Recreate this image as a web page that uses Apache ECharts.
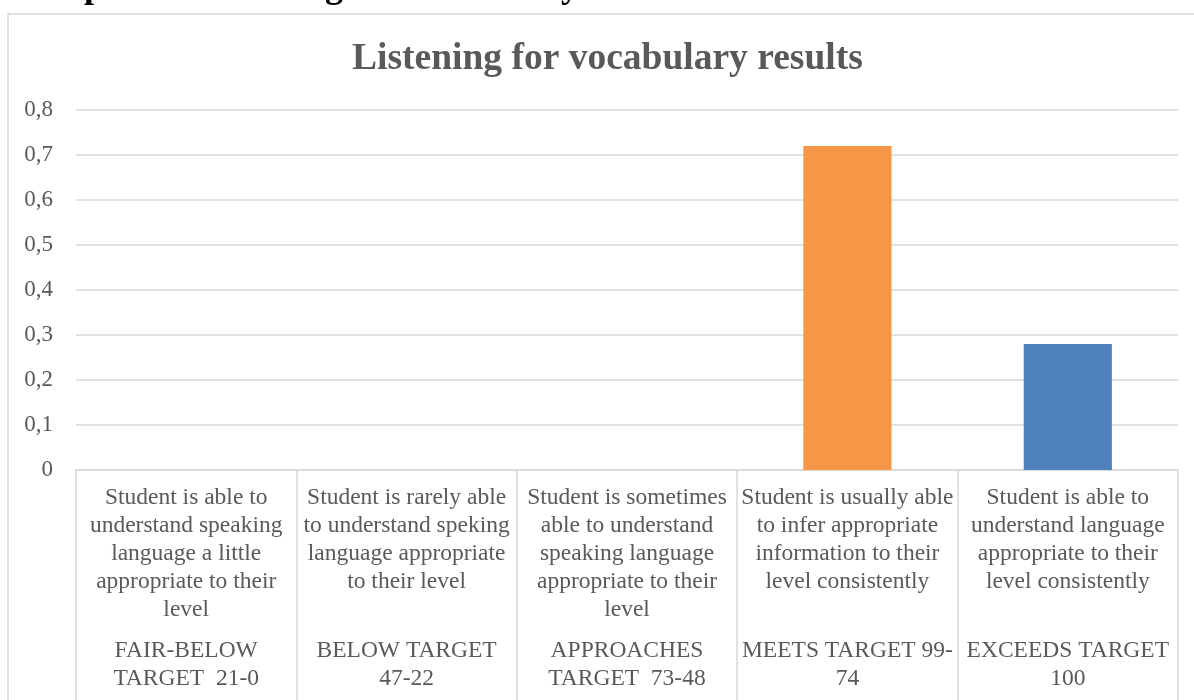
<!DOCTYPE html>
<html>
<head>
<meta charset="utf-8">
<title>Listening for vocabulary results</title>
<script src="https://cdn.jsdelivr.net/npm/echarts@6/dist/echarts.min.js"></script>
<style>
  html, body { margin: 0; padding: 0; background: #fff; }
  #chart { width: 1194px; height: 700px; }
</style>
</head>
<body>
<div id="chart"></div>
<script>
// descriptions (first label row) and target bands (second label row)
const descriptions = [
  'Student is able to\nunderstand speaking\nlanguage a little\nappropriate to their\nlevel',
  'Student is rarely able\nto understand speking\nlanguage appropriate\nto their level',
  'Student is sometimes\nable to understand\nspeaking language\nappropriate to their\nlevel',
  'Student is usually able\nto infer appropriate\ninformation to their\nlevel consistently',
  'Student is able to\nunderstand language\nappropriate to their\nlevel consistently'
];
const targets = [
  'FAIR-BELOW\nTARGET  21-0',
  'BELOW TARGET\n47-22',
  'APPROACHES\nTARGET  73-48',
  'MEETS TARGET 99-\n74',
  'EXCEEDS TARGET\n100'
];
const results = [0, 0, 0, 0.72, 0.28];
const barColors = ['#4F81BD', '#4F81BD', '#4F81BD', '#F79646', '#4F81BD'];

const serif = '"Liberation Serif", "Times New Roman", serif';
const textGray = '#595959';
const lineGray = '#d9d9d9';

const chart = echarts.init(document.getElementById('chart'));
chart.setOption({
  animation: false,
  title: {
    text: 'Listening for vocabulary results',
    left: 347,
    top: 35,
    textStyle: { fontFamily: serif, fontSize: 37.5, fontWeight: 'bold', color: textGray }
  },
  graphic: [
    {
      type: 'rect',
      shape: { x: 8, y: 14, width: 1400, height: 900 },
      style: { fill: 'none', stroke: lineGray, lineWidth: 1.5 },
      silent: true
    },
    {
      type: 'text',
      left: 22,
      top: -30,
      style: {
        text: 'Graph 4.1: Listening for vocabulary',
        font: 'bold 36px "Liberation Serif", serif',
        fill: '#000'
      },
      silent: true
    }
  ],
  grid: { left: 76, right: 16, top: 110, bottom: 230, containLabel: false },
  xAxis: [
    {
      type: 'category',
      data: descriptions,
      axisLine: { lineStyle: { color: lineGray, width: 1.5 } },
      axisTick: { show: true, interval: 0, length: 232, lineStyle: { color: lineGray, width: 1.5 } },
      axisLabel: {
        interval: 0,
        margin: 14,
        fontFamily: serif,
        fontSize: 23.5,
        lineHeight: 28,
        color: textGray,
        align: 'center'
      }
    },
    {
      type: 'category',
      position: 'bottom',
      data: targets,
      axisLine: { show: false },
      axisTick: { show: false },
      axisLabel: {
        interval: 0,
        margin: 167,
        fontFamily: serif,
        fontSize: 23.5,
        lineHeight: 28,
        color: textGray,
        align: 'center'
      }
    }
  ],
  yAxis: {
    type: 'value',
    min: 0,
    max: 0.8,
    interval: 0.1,
    axisLine: { show: false },
    axisTick: { show: false },
    splitLine: { lineStyle: { color: lineGray, width: 1.5 } },
    axisLabel: {
      margin: 23,
      fontFamily: serif,
      fontSize: 23,
      color: textGray,
      formatter: function (v) { return String(Math.round(v * 10) / 10).replace('.', ','); }
    }
  },
  series: [
    {
      type: 'bar',
      xAxisIndex: 0,
      barWidth: '40%',
      data: results.map(function (v, i) {
        return { value: v, itemStyle: { color: barColors[i] } };
      })
    }
  ]
});
</script>
</body>
</html>
